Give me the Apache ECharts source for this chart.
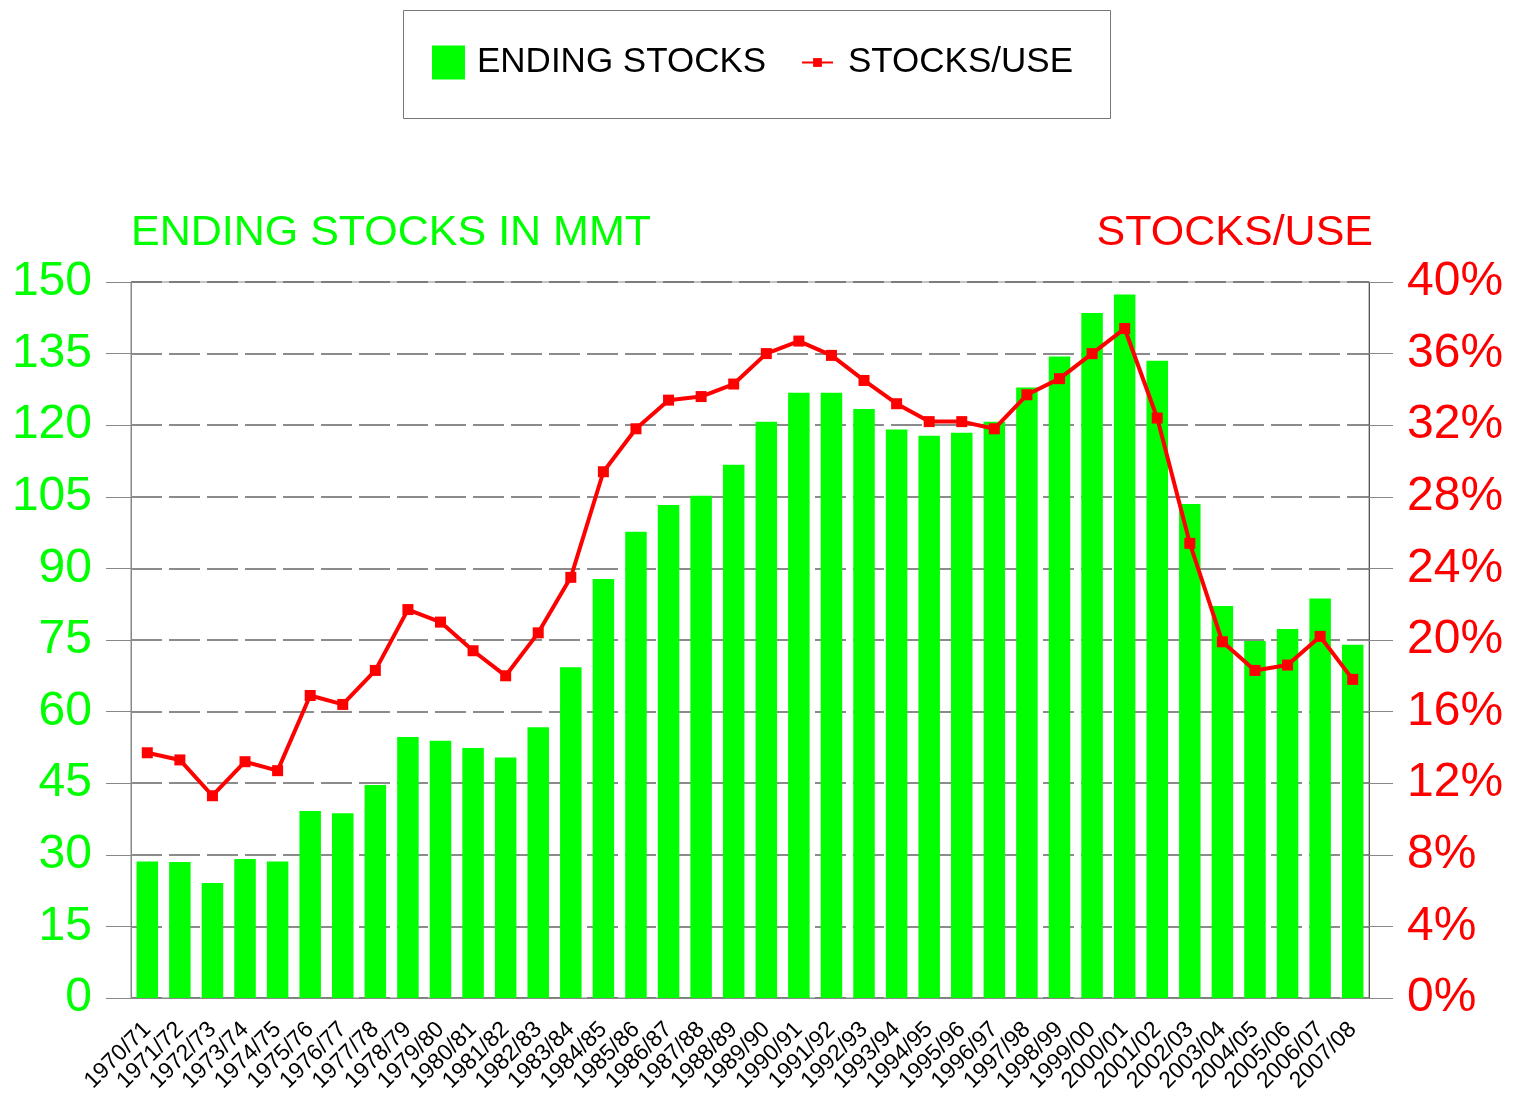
<!DOCTYPE html>
<html>
<head>
<meta charset="utf-8">
<script src="https://cdn.jsdelivr.net/npm/echarts@6/dist/echarts.min.js"></script>
<style>
html,body{margin:0;padding:0;background:#fff;}
#content{width:1513px;height:1098px;}
</style>
</head>
<body>
<div id="content"></div>
<script>
var seasons = ['1970/71','1971/72','1972/73','1973/74','1974/75','1975/76','1976/77','1977/78','1978/79','1979/80',
    '1980/81','1981/82','1982/83','1983/84','1984/85','1985/86','1986/87','1987/88','1988/89','1989/90',
    '1990/91','1991/92','1992/93','1993/94','1994/95','1995/96','1996/97','1997/98','1998/99','1999/00',
    '2000/01','2001/02','2002/03','2003/04','2004/05','2005/06','2006/07','2007/08'];
// ending stocks, million metric tons
var endingStocks = [28.6, 28.5, 24.1, 29.1, 28.6, 39.2, 38.7, 44.6, 54.7, 53.9,
    52.4, 50.4, 56.7, 69.3, 87.8, 97.7, 103.3, 105.2, 111.7, 120.7,
    126.8, 126.8, 123.4, 119.1, 117.8, 118.4, 120.7, 127.9, 134.4, 143.5,
    147.4, 133.5, 103.5, 82.1, 74.8, 77.3, 83.7, 74.0];
// stocks-to-use ratio, percent
var stocksUse = [13.7, 13.3, 11.3, 13.2, 12.7, 16.9, 16.4, 18.3, 21.7, 21.0,
    19.4, 18.0, 20.4, 23.5, 29.4, 31.8, 33.4, 33.6, 34.3, 36.0,
    36.7, 35.9, 34.5, 33.2, 32.2, 32.2, 31.8, 33.7, 34.6, 36.0,
    37.4, 32.4, 25.4, 19.9, 18.3, 18.6, 20.2, 17.8];

var green = '#00ff00';
var red = '#ff0000';
var font = 'Liberation Sans, Arial, sans-serif';

var myChart = echarts.init(document.getElementById('content'));

var option = {
    animation: false,
    textStyle: {fontFamily: font},
    graphic: [{
        type: 'rect',
        left: 403, top: 10,
        shape: {width: 707, height: 108},
        style: {fill: '#fff', stroke: '#777', lineWidth: 1}
    }],
    legend: [
        {
            data: [{name: 'ENDING STOCKS', icon: 'rect'}],
            left: 432, top: 45,
            padding: 0,
            itemWidth: 33, itemHeight: 34,
            textStyle: {fontSize: 35, color: '#000', fontFamily: font, padding: [0, 0, 0, 7]}
        },
        {
            data: ['STOCKS/USE'],
            left: 801, top: 45,
            padding: 0,
            itemWidth: 31, itemHeight: 11,
            textStyle: {fontSize: 35, color: '#000', fontFamily: font, padding: [0, 0, 0, 10]}
        }
    ],
    grid: {
        left: 131, right: 144, top: 282, bottom: 100,
        containLabel: false,
        outerBoundsMode: 'none',
        show: true,
        borderColor: '#888',
        borderWidth: 1,
        backgroundColor: 'transparent'
    },
    xAxis: {
        type: 'category',
        data: seasons,
        axisLine: {lineStyle: {color: '#888', width: 1}},
        axisTick: {alignWithLabel: true, length: 14, lineStyle: {color: '#888'}},
        axisLabel: {interval: 0, rotate: 45, fontSize: 23, color: '#000', margin: 28, fontFamily: font},
        splitLine: {show: false}
    },
    yAxis: [
        {
            type: 'value',
            min: 0, max: 150, interval: 15,
            name: 'ENDING STOCKS IN MMT',
            nameLocation: 'end',
            nameGap: 49,
            nameTextStyle: {color: green, fontSize: 43, align: 'left', verticalAlign: 'middle', fontFamily: font},
            axisLine: {show: true, lineStyle: {color: '#888'}},
            axisTick: {show: true, length: 25, lineStyle: {color: '#888'}},
            axisLabel: {color: green, fontSize: 48, margin: 39, fontFamily: font},
            splitLine: {show: true, lineStyle: {color: '#666', width: 1.5, type: [31, 7]}}
        },
        {
            type: 'value',
            min: 0, max: 40, interval: 4,
            position: 'right',
            name: 'STOCKS/USE',
            nameLocation: 'end',
            nameGap: 49,
            nameTextStyle: {color: red, fontSize: 43, align: 'right', verticalAlign: 'middle', fontFamily: font, padding: [0, -4, 0, 0]},
            axisLine: {show: true, lineStyle: {color: '#555'}},
            axisTick: {show: true, length: 24, lineStyle: {color: '#888'}},
            axisLabel: {color: red, fontSize: 48, margin: 38, formatter: '{value}%', fontFamily: font},
            splitLine: {show: false}
        }
    ],
    series: [
        {
            name: 'ENDING STOCKS',
            type: 'bar',
            data: endingStocks,
            barWidth: '66%',
            itemStyle: {color: green}
        },
        {
            name: 'STOCKS/USE',
            type: 'line',
            yAxisIndex: 1,
            data: stocksUse,
            symbol: 'rect',
            symbolSize: 11,
            z: 5,
            lineStyle: {color: red, width: 4},
            itemStyle: {color: red}
        }
    ]
};
myChart.setOption(option);
</script>
</body>
</html>
